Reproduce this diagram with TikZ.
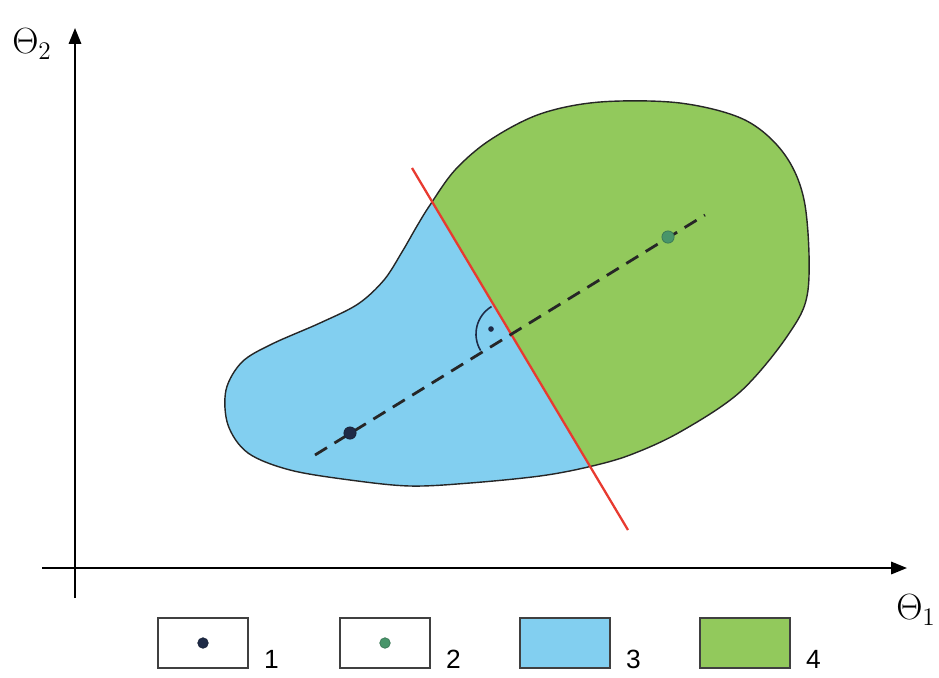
\documentclass[tikz,border=0pt]{standalone}
\usepackage{fontspec}
\setsansfont{Liberation Sans}
\usepackage{tikz}
\usetikzlibrary{arrows.meta, positioning}
\definecolor{regionblue}{RGB}{130,207,240}
\definecolor{regiongreen}{RGB}{146,201,92}
\definecolor{borderred}{RGB}{232,58,48}
\definecolor{dotnavy}{RGB}{30,42,70}
\definecolor{dotgreen}{RGB}{40,130,80}

\begin{document}
\begin{tikzpicture}[x=0.02cm, y=-0.02cm,
  axis/.style={line width=1.2pt, -{Triangle[length=9pt, width=7pt]}},
  legbox/.style={draw=black!75, line width=0.8pt, minimum width=1.8cm, minimum height=1cm, inner sep=0pt},
  leglabel/.style={font=\sffamily\fontsize{15}{15}\selectfont, anchor=south west, inner sep=0pt},
  pointdot/.style={circle, draw=#1!80!black, fill=#1, minimum size=7pt, inner sep=0pt},
  axlabel/.style={font=\fontsize{22}{22}\selectfont, inner sep=0pt}]
 \useasboundingbox (0,0) rectangle (939,677);
 \def\blobpath{plot[smooth cycle, tension=0.55] coordinates {
   (430,205) (455,170) (490,140) (540,114) (600,102) (680,103) (745,120)
   (785,155) (805,205) (808,290) (788,335) (740,392) (680,432) (630,455)
   (588,467) (540,476) (470,483) (410,486) (350,480) (290,470) (248,453)
   (228,425) (226,390) (242,362) (272,344) (320,323) (358,304) (384,280)
   (402,252) (417,226)}}
 % region 3 and region 4, split by the red line
 \begin{scope}
  \clip (0,0) -- (312,0) -- (716,677) -- (0,677) -- cycle;
  \fill[regionblue] \blobpath;
 \end{scope}
 \begin{scope}
  \clip (312,0) -- (939,0) -- (939,677) -- (716,677) -- cycle;
  \fill[regiongreen] \blobpath;
 \end{scope}
 \draw[line width=0.8pt, black!85] \blobpath;
 % axes
 \coordinate (xstart) at (42,568);
 \coordinate (xend) at (907,568);
 \coordinate (ystart) at (75,598);
 \coordinate (yend) at (75,28);
 \draw[axis] (xstart) -- (xend);
 \draw[axis] (ystart) -- (yend);
 \node[axlabel] (theta2) at (32,44) {$\Theta_2$};
 \node[axlabel] (theta1) at (916,610) {$\Theta_1$};
 % separating line and connecting line
 \coordinate (redtop) at (412,168);
 \coordinate (redbot) at (628,530);
 \draw[borderred, line width=1.3pt] (redtop) -- (redbot);
 \coordinate (dashstart) at (315,455);
 \coordinate (dashend) at (705,215);
 \draw[line width=1.6pt, dash pattern=on 8pt off 5pt, black!85] (dashstart) -- (dashend);
 % right angle mark
 \coordinate (foot) at (508,334);
 \draw[line width=0.9pt, dotnavy] ([shift={(239:32)}]foot) arc[start angle=239, end angle=149, radius=32];
 \fill[dotnavy] (491,329) circle (1.6pt);
 \node[pointdot=dotnavy] (p1) at (350,433) {};
 \node[pointdot=dotgreen!85!white] (p2) at (668,237) {};
 % legend
 \foreach \i/\x/\c in {1/203/white, 2/385/white, 3/565/regionblue, 4/745/regiongreen}{
   \node[legbox, fill=\c] (leg\i) at (\x,643) {};
   \node[leglabel] (lab\i) at ([xshift=0.3cm]leg\i.south east) {\i};
 }
 \node[pointdot=dotnavy, minimum size=6pt] (legdot1) at (leg1) {};
 \node[pointdot=dotgreen!85!white, minimum size=6pt] (legdot2) at (leg2) {};
\end{tikzpicture}
\end{document}
